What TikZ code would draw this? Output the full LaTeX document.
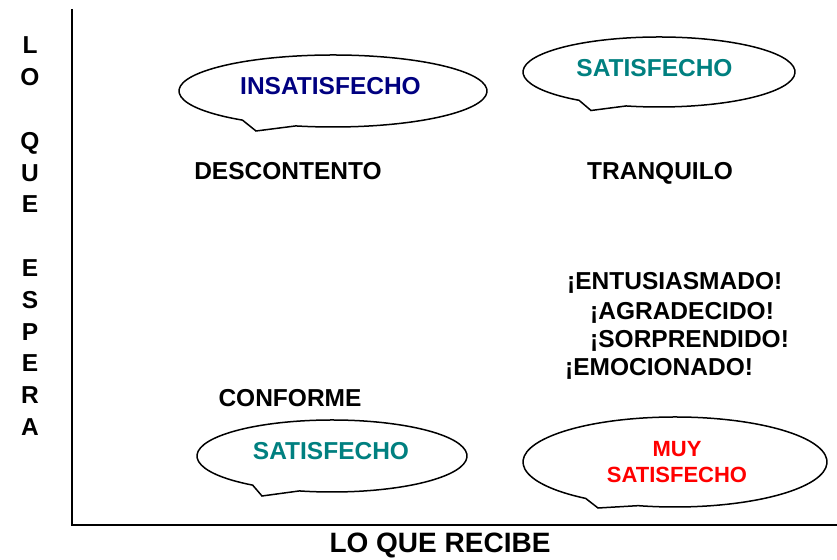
\documentclass[tikz,border=0pt]{standalone}
\usepackage{fontspec}
\setmainfont{Liberation Sans}
\usetikzlibrary{calc}
\definecolor{navyc}{RGB}{0,0,128}
\definecolor{tealc}{RGB}{0,128,128}
\definecolor{redc}{RGB}{255,0,0}
\tikzset{
  lbl/.style={font=\bfseries\fontsize{24.5}{28}\selectfont, inner sep=0pt},
  bubble/.style={draw=black, fill=white, line width=1.5pt, line join=miter},
  axis/.style={draw=black, line width=1.8pt}
}
\begin{document}
\begin{tikzpicture}[x=1pt,y=1pt]
\useasboundingbox (0,0) rectangle (837,559);
% axes
\coordinate (ytop) at (72,550);
\coordinate (orig) at (72,34);
\coordinate (xend) at (837,34);
\draw[axis] (ytop) -- (orig) -- (xend);
% axis labels
\node[lbl, align=center, anchor=north, font=\bfseries\fontsize{24.5}{31.8}\selectfont] (ylab) at (30,522.1)
  {L\\O\\\mbox{}\\Q\\U\\E\\\mbox{}\\E\\S\\P\\E\\R\\A};
\node[lbl, anchor=base, font=\bfseries\fontsize{28}{32}\selectfont] (xlab) at (440,6.5) {LO QUE RECIBE};
% bubbles
\coordinate (c1) at (333,468);
\draw[bubble] ($(c1)+(234:154 and 36)$) arc[start angle=234, end angle=-104, x radius=154, y radius=36] -- ($(c1)+(-77,-40)$) -- cycle;
\coordinate (c2) at (659,487);
\draw[bubble] ($(c2)+(234:136 and 35)$) arc[start angle=234, end angle=-104, x radius=136, y radius=35] -- ($(c2)+(-68,-38.5)$) -- cycle;
\coordinate (c3) at (332,103);
\draw[bubble] ($(c3)+(234:135 and 36)$) arc[start angle=234, end angle=-104, x radius=135, y radius=36] -- ($(c3)+(-70,-40)$) -- cycle;
\coordinate (c4) at (675,97);
\draw[bubble] ($(c4)+(234:152 and 45)$) arc[start angle=234, end angle=-104, x radius=152, y radius=45] -- ($(c4)+(-77,-46)$) -- cycle;
% bubble texts
\node[lbl, anchor=base, text=navyc] (insat) at (330.5,464) {INSATISFECHO};
\node[lbl, anchor=base, text=tealc] (sat1) at (654.5,482.3) {SATISFECHO};
\node[lbl, anchor=base, text=tealc] (sat2) at (331,99) {SATISFECHO};
\node[lbl, align=center, text=redc, font=\bfseries\fontsize{22}{26.3}\selectfont] (muysat) at (677,96.7) {MUY\\SATISFECHO};
% quadrant texts
\node[lbl, anchor=base] (desc) at (288,379) {DESCONTENTO};
\node[lbl, anchor=base] (tranq) at (660,379) {TRANQUILO};
\node[lbl, anchor=base] (conf) at (290,152) {CONFORME};
\node[lbl, anchor=base west] (ent) at (567,269.2) {¡ENTUSIASMADO!};
\node[lbl, anchor=base west] (agr) at (590,239.2) {¡AGRADECIDO!};
\node[lbl, anchor=base west] (sorp) at (590,211.2) {¡SORPRENDIDO!};
\node[lbl, anchor=base west] (emo) at (565,183.2) {¡EMOCIONADO!};
\end{tikzpicture}
\end{document}
